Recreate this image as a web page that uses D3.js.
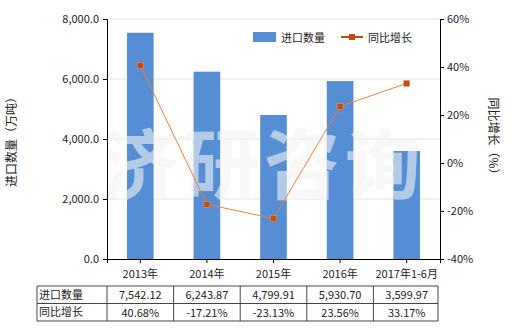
<!DOCTYPE html>
<html>
<head>
<meta charset="utf-8">
<script src="https://cdn.jsdelivr.net/npm/d3@7"></script>
<style>
  body { margin: 0; background: #fff; }
  svg text { font-family: "Noto Sans CJK SC", "Noto Sans", sans-serif; fill: #222; }
</style>
</head>
<body>
<div id="chart"></div>
<script>
// Chart data
const categories = ["2013年", "2014年", "2015年", "2016年", "2017年1-6月"];
const importQty = [7542.12, 6243.87, 4799.91, 5930.70, 3599.97];
const growth = [40.68, -17.21, -23.13, 23.56, 33.17];
const leftTicks = [0, 2000, 4000, 6000, 8000];
const rightTicks = [-40, -20, 0, 20, 40, 60];
const rowNames = ["进口数量", "同比增长"];

const W = 520, H = 330;
const margin = { top: 19, right: 80, bottom: 71, left: 107 };
const width = 440 - margin.left;
const height = 259 - margin.top;

const svg = d3.select("#chart").append("svg")
    .attr("width", W)
    .attr("height", H);

const g = svg.append("g")
    .attr("transform", `translate(${margin.left},${margin.top})`);

const x = d3.scaleBand().domain(categories).range([0, width]).paddingInner(0.6).paddingOuter(0.3);
const xc = d3.scaleBand().domain(categories).range([0, width]);
const y = d3.scaleLinear().domain([0, 8000]).range([height, 0]);
const y2 = d3.scaleLinear().domain([-40, 60]).range([height, 0]);

// Gridlines
g.selectAll(".grid")
    .data(leftTicks.slice(1))
    .enter().append("line")
    .attr("x1", 0).attr("x2", width)
    .attr("y1", d => y(d)).attr("y2", d => y(d))
    .attr("stroke", "#e4e4e4");

// watermark helper
function watermark(fill, opacity) {
    svg.append("text")
        .attr("x", 102)
        .attr("y", 193)
        .style("font-size", "76px")
        .style("font-weight", "bold")
        .style("letter-spacing", "5px")
        .style("fill", fill)
        .style("opacity", opacity)
        .text("济研咨询");
}
watermark("#e8e8e8", 0.4);

// Bars
g.selectAll(".bar")
    .data(importQty)
    .enter().append("rect")
    .attr("x", (d, i) => x(categories[i]))
    .attr("y", d => y(d))
    .attr("width", x.bandwidth())
    .attr("height", d => height - y(d))
    .attr("fill", "#558ed5");

watermark("#ffffff", 0.33);

// Line
const line = d3.line()
    .x((d, i) => xc(categories[i]) + xc.bandwidth() / 2)
    .y(d => y2(d));

const lineG = svg.append("g")
    .attr("transform", `translate(${margin.left},${margin.top})`);

lineG.append("path")
    .datum(growth)
    .attr("d", line)
    .attr("fill", "none")
    .attr("stroke", "#f07f35")
    .attr("stroke-width", 1);

lineG.selectAll(".pt")
    .data(growth)
    .enter().append("rect")
    .attr("x", (d, i) => xc(categories[i]) + xc.bandwidth() / 2 - 3)
    .attr("y", d => y2(d) - 3)
    .attr("width", 6).attr("height", 6)
    .attr("fill", "#c9480e")
    .attr("stroke", "#f5a05a")
    .attr("stroke-width", 0.5);

// Axes
const axL = lineG.append("g")
    .call(d3.axisLeft(y).tickValues(leftTicks).tickSize(4)
        .tickFormat(d => d3.format(",.1f")(d)));
const axR = lineG.append("g")
    .attr("transform", `translate(${width},0)`)
    .call(d3.axisRight(y2).tickValues(rightTicks).tickSize(4)
        .tickFormat(d => d + "%"));
const axB = lineG.append("g")
    .attr("transform", `translate(0,${height})`)
    .call(d3.axisBottom(xc).tickSize(4));

[axL, axR, axB].forEach(a => {
    a.select(".domain").attr("stroke", "#000");
    a.selectAll(".tick line").attr("stroke", "#000");
    a.selectAll("text").style("font-size", "11px").attr("fill", "#222");
});
axB.selectAll("text").attr("dy", "1.1em");
axL.selectAll("text").attr("dx", "-1px");

// Axis titles
svg.append("text")
    .attr("transform", `translate(16,${margin.top + height / 2}) rotate(-90)`)
    .attr("text-anchor", "middle")
    .style("font-size", "12px")
    .text("进口数量（万吨）");
svg.append("text")
    .attr("transform", `translate(489,${margin.top + height / 2}) rotate(90)`)
    .attr("text-anchor", "middle")
    .style("font-size", "12px")
    .text("同比增长（%）");

// Legend
const lg = svg.append("g");
lg.append("rect").attr("x", 253).attr("y", 32).attr("width", 23).attr("height", 10).attr("fill", "#558ed5");
lg.append("text").attr("x", 281).attr("y", 41.5).style("font-size", "11px").text("进口数量");
lg.append("line").attr("x1", 341).attr("x2", 363).attr("y1", 37).attr("y2", 37)
    .attr("stroke", "#c9480e").attr("stroke-width", 2);
lg.append("rect").attr("x", 349).attr("y", 34).attr("width", 6).attr("height", 6).attr("fill", "#c9480e");
lg.append("text").attr("x", 368).attr("y", 41.5).style("font-size", "11px").text("同比增长");

// Data table
const tTop = 286, rowH = 17.5, tLeft = 37;
const tbl = svg.append("g");
const colEdges = [tLeft].concat(categories.map(c => margin.left + xc(c)), [margin.left + width - 2]);
const rows = [importQty.map(d => d3.format(",.2f")(d)), growth.map(d => d.toFixed(2) + "%")];

tbl.selectAll(".hl")
    .data([0, 1, 2])
    .enter().append("line")
    .attr("x1", tLeft).attr("x2", colEdges[colEdges.length - 1])
    .attr("y1", i => tTop + i * rowH).attr("y2", i => tTop + i * rowH)
    .attr("stroke", "#444");
tbl.selectAll(".vl")
    .data(colEdges)
    .enter().append("line")
    .attr("x1", d => d).attr("x2", d => d)
    .attr("y1", tTop).attr("y2", tTop + 2 * rowH)
    .attr("stroke", "#444");

rowNames.forEach((name, r) => {
    tbl.append("text")
        .attr("x", tLeft + 2)
        .attr("y", tTop + r * rowH + 12.5)
        .style("font-size", "11px")
        .text(name);
    rows[r].forEach((v, i) => {
        tbl.append("text")
            .attr("x", margin.left + xc(categories[i]) + xc.bandwidth() / 2)
            .attr("y", tTop + r * rowH + 13)
            .attr("text-anchor", "middle")
            .style("font-size", "11px")
            .text(v);
    });
});
</script>
</body>
</html>
